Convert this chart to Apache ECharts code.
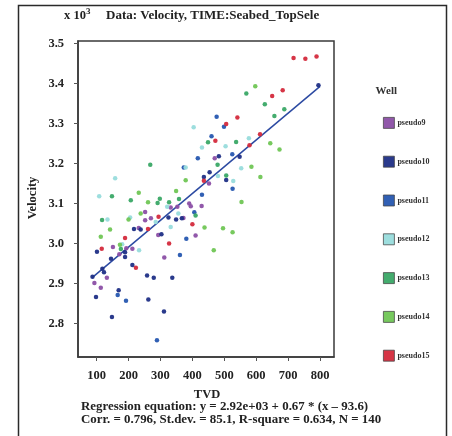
<!DOCTYPE html>
<html>
<head>
<meta charset="utf-8">
<script src="https://cdn.jsdelivr.net/npm/echarts@6/dist/echarts.min.js"></script>
<style>
html,body{margin:0;padding:0;background:#fff;}
#c{width:452px;height:436px;}
</style>
</head>
<body>
<div id="c"></div>
<script>
// TVD (x) and Velocity (x 10^3) per well
const wells = ['pseudo9','pseudo10','pseudo11','pseudo12','pseudo13','pseudo14','pseudo15'];
const pseudo9 = [[470,3.213],[452,3.150],[429,3.094],[390,3.100],[395,3.093],[332,3.090],[353,3.092],[252,3.079],[372,3.064],[270,3.063],[252,3.058],[232,3.039],[293,3.021],[410,3.020],[151,2.991],[193,2.988],[212,2.987],[171,2.973],[312,2.965],[132,2.914],[93,2.901],[113,2.889]];
const pseudo10 = [[795,3.396],[483,3.218],[548,3.217],[454,3.178],[506,3.159],[436,3.166],[367,3.063],[349,3.060],[325,3.065],[217,3.036],[238,3.035],[303,3.023],[101,2.979],[189,2.978],[145,2.962],[189,2.966],[212,2.946],[118,2.937],[123,2.928],[87,2.917],[258,2.920],[279,2.914],[337,2.914],[98,2.866],[169,2.883],[262,2.860],[148,2.816],[311,2.830]];
const pseudo11 = [[476,3.317],[499,3.292],[460,3.268],[525,3.223],[526,3.137],[430,3.122],[406,3.078],[381,3.012],[361,2.971],[417,3.213],[373,3.190],[166,2.871],[192,2.857],[289,2.758]];
const pseudo12 = [[404,3.291],[430,3.240],[504,3.243],[577,3.263],[553,3.188],[480,3.169],[528,3.156],[379,3.190],[158,3.163],[108,3.118],[321,3.092],[356,3.075],[285,3.054],[205,3.065],[134,3.060],[332,3.041],[180,2.998],[233,2.983]];
const pseudo13 = [[569,3.375],[627,3.348],[688,3.336],[657,3.319],[449,3.253],[537,3.254],[479,3.197],[506,3.170],[268,3.197],[148,3.118],[207,3.108],[298,3.112],[291,3.101],[327,3.103],[358,3.111],[410,3.070],[117,3.059],[176,2.986]];
const pseudo14 = [[597,3.393],[644,3.251],[673,3.235],[585,3.192],[613,3.166],[554,3.104],[379,3.158],[232,3.127],[349,3.131],[261,3.103],[238,3.075],[200,3.060],[142,3.035],[438,3.040],[496,3.038],[526,3.028],[113,3.017],[173,2.997],[467,2.983]];
const pseudo15 = [[717,3.464],[754,3.462],[789,3.468],[683,3.383],[650,3.369],[541,3.315],[506,3.299],[472,3.257],[612,3.273],[579,3.246],[436,3.157],[294,3.067],[261,3.036],[400,3.048],[189,3.014],[327,3.000],[116,2.987],[223,2.939]];
const regLine = [[85,2.914],[800,3.393]];
const xTicks = [100,200,300,400,500,600,700,800];
const yTicks = [2.8,2.9,3.0,3.1,3.2,3.3,3.4,3.5];

const seriesData = [pseudo9,pseudo10,pseudo11,pseudo12,pseudo13,pseudo14,pseudo15];
const colors = ['#8b4fa5','#1f2f86','#2657b0','#98dcdc','#3aa866','#70c655','#d42a3c'];
const SERIF = '"Liberation Serif","DejaVu Serif",serif';

const chart = echarts.init(document.getElementById('c'), null, {renderer:'canvas'});
const series = wells.map((w,i)=>({
  name:w, type:'scatter', data:seriesData[i], symbol:'circle', symbolSize:4.5,
  itemStyle:{color:colors[i], opacity:0.95}, z:3
}));
series.push({
  name:'regression', type:'line', data:regLine, symbol:'none',
  lineStyle:{color:'#2c4aa2', width:1.5}, z:2, silent:true
});

chart.setOption({
  animation:false,
  backgroundColor:'#fff',
  color:colors,
  grid:{left:78, top:41, right:118, bottom:79, show:true, borderColor:'#3a3a3a', borderWidth:1.5, containLabel:false},
  xAxis:{
    type:'value', min:41.6, max:843.75,
    splitLine:{show:false},
    axisLine:{show:true, onZero:false, lineStyle:{color:'#3a3a3a', width:1.5}},
    axisTick:{show:true, inside:false, length:4, customValues:xTicks, lineStyle:{color:'#555'}},
    axisLabel:{customValues:xTicks, margin:12, color:'#222', fontFamily:SERIF, fontWeight:'bold', fontSize:12.5},
  },
  yAxis:{
    type:'value', min:2.716, max:3.5065,
    splitLine:{show:false},
    axisLine:{show:true, onZero:false, lineStyle:{color:'#3a3a3a', width:1.5}},
    axisTick:{show:true, inside:false, length:4, customValues:yTicks, lineStyle:{color:'#555'}},
    axisLabel:{customValues:yTicks, margin:14, color:'#222', fontFamily:SERIF, fontWeight:'bold', fontSize:12.5,
      formatter:v=>v.toFixed(1)},
  },
  legend:{
    data:wells, orient:'vertical', left:378, top:112, itemWidth:11, itemHeight:11, itemGap:27,
    icon:'rect',
    itemStyle:{borderColor:'#444', borderWidth:0.8},
    textStyle:{fontFamily:SERIF, fontWeight:'bold', fontSize:8, color:'#333', padding:[0,0,0,-2]}
  },
  series:series,
  graphic:[
    {type:'rect', shape:{x:18.5,y:5.5,width:428,height:440}, style:{fill:null, stroke:'#2a2a2a', lineWidth:1.5}, z:-1},
    {type:'text', left:64, top:7, style:{text:'x 10{s|3}', rich:{s:{fontSize:9, fontFamily:SERIF, fontWeight:'bold', verticalAlign:'top', padding:[0,0,8,0]}}, font:'bold 12.5px '+SERIF, fill:'#222'}},
    {type:'text', left:106, top:9, style:{text:'Data: Velocity, TIME:Seabed_TopSele', font:'bold 13px '+SERIF, fill:'#222'}},
    {type:'text', x:33, y:198, rotation:Math.PI/2, style:{text:'Velocity', font:'bold 12.5px '+SERIF, fill:'#222', align:'center', verticalAlign:'middle'}},
    {type:'text', x:207, y:395, style:{text:'TVD', font:'bold 12.5px '+SERIF, fill:'#222', align:'center', verticalAlign:'middle'}},
    {type:'text', x:81, y:407, style:{text:'Regression equation: y = 2.92e+03 + 0.67 * (x \u2013 93.6)', font:'bold 12.9px '+SERIF, fill:'#222', align:'left', verticalAlign:'middle'}},
    {type:'text', x:81, y:419.5, style:{text:'Corr. = 0.796, St.dev. = 85.1, R-square = 0.634, N = 140', font:'bold 12.9px '+SERIF, fill:'#222', align:'left', verticalAlign:'middle'}},
    {type:'text', x:397, y:91, style:{text:'Well', font:'bold 11px '+SERIF, fill:'#333', align:'right', verticalAlign:'middle'}}
  ]
});
</script>
</body>
</html>
